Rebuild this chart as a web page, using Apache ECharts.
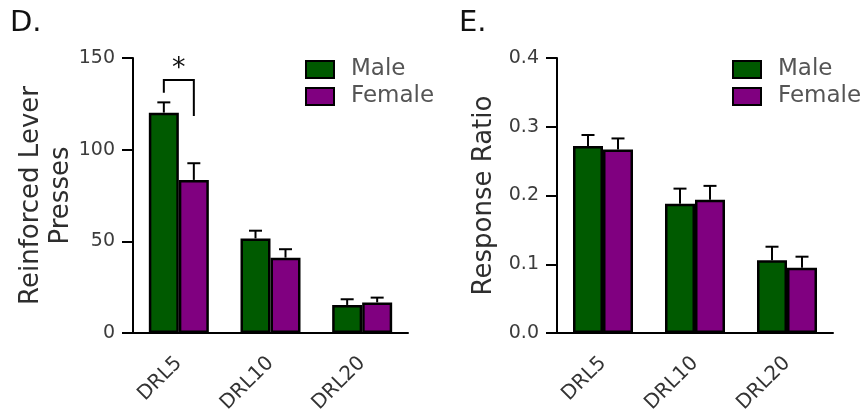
<!DOCTYPE html>
<html>
<head>
<meta charset="utf-8">
<script src="https://cdn.jsdelivr.net/npm/echarts@6/dist/echarts.min.js"></script>
<style>
  html, body { margin: 0; padding: 0; background: #fff; }
  #chart { width: 864px; height: 418px; }
</style>
</head>
<body>
<div id="chart"></div>
<script>
// categories shared by both panels
const categories = ['DRL5', 'DRL10', 'DRL20'];

// panel D: reinforced lever presses (mean and mean + SEM)
const pressMale = [120.2, 51.6, 15.3];
const pressMaleUpper = [125.8, 55.8, 18.4];
const pressFemale = [83.5, 41.1, 16.7];
const pressFemaleUpper = [92.6, 45.7, 19.3];

// panel E: response ratio
const ratioMale = [0.272, 0.188, 0.106];
const ratioMaleUpper = [0.288, 0.210, 0.1255];
const ratioFemale = [0.267, 0.194, 0.095];
const ratioFemaleUpper = [0.283, 0.214, 0.111];

// significance bracket over DRL5 in panel D: [category, top, left leg end, right leg end, star]
const bracket = [[0, 138, 131, 118.4, 144]];

const pressTicks = [0, 50, 100, 150];
const ratioTicks = [0, 0.1, 0.2, 0.3, 0.4];

const green = '#005a00';
const purple = '#800080';
const barW = 30;
const fontFam = 'DejaVu Sans';

function errorRender(offset) {
    return function (params, api) {
        const base = api.coord([api.value(0), api.value(1)]);
        const top = api.coord([api.value(0), api.value(2)]);
        const cx = base[0] + offset;
        const st = { stroke: '#000', lineWidth: 2 };
        return {
            type: 'group',
            children: [
                { type: 'line', shape: { x1: cx, y1: base[1], x2: cx, y2: top[1] }, style: st },
                { type: 'line', shape: { x1: cx - 6.5, y1: top[1], x2: cx + 6.5, y2: top[1] }, style: st }
            ]
        };
    };
}

function bracketRender(params, api) {
    const c = api.coord([api.value(0), api.value(1)]);
    const l = api.coord([api.value(0), api.value(2)]);
    const r = api.coord([api.value(0), api.value(3)]);
    const s = api.coord([api.value(0), api.value(4)]);
    const lx = c[0] - barW / 2, rx = c[0] + barW / 2;
    return {
        type: 'group',
        children: [
            {
                type: 'polyline',
                shape: { points: [[lx, l[1]], [lx, c[1]], [rx, c[1]], [rx, r[1]]] },
                style: { stroke: '#000', lineWidth: 2, fill: null }
            },
            {
                type: 'text',
                style: { x: c[0], y: s[1], text: '*', fontSize: 27, fontFamily: fontFam, fill: '#111', align: 'center', verticalAlign: 'middle' }
            }
        ]
    };
}

function xAxisOpt(gridIndex) {
    return {
        type: 'category',
        gridIndex: gridIndex,
        data: categories,
        axisLine: { lineStyle: { color: '#000', width: 2 } },
        axisTick: { alignWithLabel: true, length: 11, lineStyle: { color: '#000', width: 2 } },
        axisLabel: { rotate: 45, margin: 27, fontSize: 20, fontFamily: fontFam, color: '#333' }
    };
}

function yAxisOpt(gridIndex, ticks, name, gap, fmt) {
    return {
        type: 'value',
        gridIndex: gridIndex,
        min: ticks[0],
        max: ticks[ticks.length - 1],
        interval: ticks[1] - ticks[0],
        name: name,
        nameLocation: 'middle',
        nameRotate: 90,
        nameGap: gap,
        nameMoveOverlap: false,
        nameTextStyle: { fontSize: 26, fontFamily: fontFam, color: '#2e2e2e', lineHeight: 30 },
        splitLine: { show: false },
        axisLine: { show: true, lineStyle: { color: '#000', width: 2 } },
        axisTick: { show: true, length: 11, lineStyle: { color: '#000', width: 2 } },
        axisLabel: { margin: 18, fontSize: 19, fontFamily: fontFam, color: '#3c3c3c', formatter: fmt }
    };
}

function barSeries(name, data, color, idx) {
    return {
        name: name,
        type: 'bar',
        xAxisIndex: idx,
        yAxisIndex: idx,
        data: data,
        barWidth: barW,
        barGap: '0%',
        itemStyle: { color: color, borderColor: '#000', borderWidth: 2.5 }
    };
}

function errSeries(lo, hi, offset, idx) {
    return {
        type: 'custom',
        xAxisIndex: idx,
        yAxisIndex: idx,
        z: 5,
        renderItem: errorRender(offset),
        data: lo.map((v, i) => [i, v, hi[i]])
    };
}

function legendOpt(left) {
    return {
        data: ['Male', 'Female'],
        orient: 'vertical',
        left: left,
        top: 58,
        padding: 0,
        icon: 'rect',
        itemWidth: 28,
        itemHeight: 17,
        itemGap: 4,
        selectedMode: false,
        itemStyle: { borderColor: '#000', borderWidth: 2 },
        textStyle: { fontSize: 23, fontFamily: fontFam, color: '#555', lineHeight: 21, padding: [0, 0, 0, 12] }
    };
}

const option = {
    animation: false,
    graphic: [
        { type: 'text', left: 10, top: 9, style: { text: 'D.', fontSize: 29, fontFamily: fontFam, fill: '#111' } },
        { type: 'text', left: 459, top: 9, style: { text: 'E.', fontSize: 29, fontFamily: fontFam, fill: '#111' } }
    ],
    legend: [legendOpt(305), legendOpt(732)],
    grid: [
        { left: 133, top: 58, width: 275, height: 275 },
        { left: 557, top: 58, width: 276, height: 275 }
    ],
    xAxis: [xAxisOpt(0), xAxisOpt(1)],
    yAxis: [
        yAxisOpt(0, pressTicks, 'Reinforced Lever\nPresses', 57, v => String(v)),
        yAxisOpt(1, ratioTicks, 'Response Ratio', 58, v => v.toFixed(1))
    ],
    series: [
        barSeries('Male', pressMale, green, 0),
        barSeries('Female', pressFemale, purple, 0),
        errSeries(pressMale, pressMaleUpper, -barW / 2, 0),
        errSeries(pressFemale, pressFemaleUpper, barW / 2, 0),
        {
            type: 'custom',
            xAxisIndex: 0,
            yAxisIndex: 0,
            z: 5,
            renderItem: bracketRender,
            data: bracket
        },
        barSeries('Male', ratioMale, green, 1),
        barSeries('Female', ratioFemale, purple, 1),
        errSeries(ratioMale, ratioMaleUpper, -barW / 2, 1),
        errSeries(ratioFemale, ratioFemaleUpper, barW / 2, 1)
    ]
};

const chart = echarts.init(document.getElementById('chart'));
chart.setOption(option);
</script>
</body>
</html>
